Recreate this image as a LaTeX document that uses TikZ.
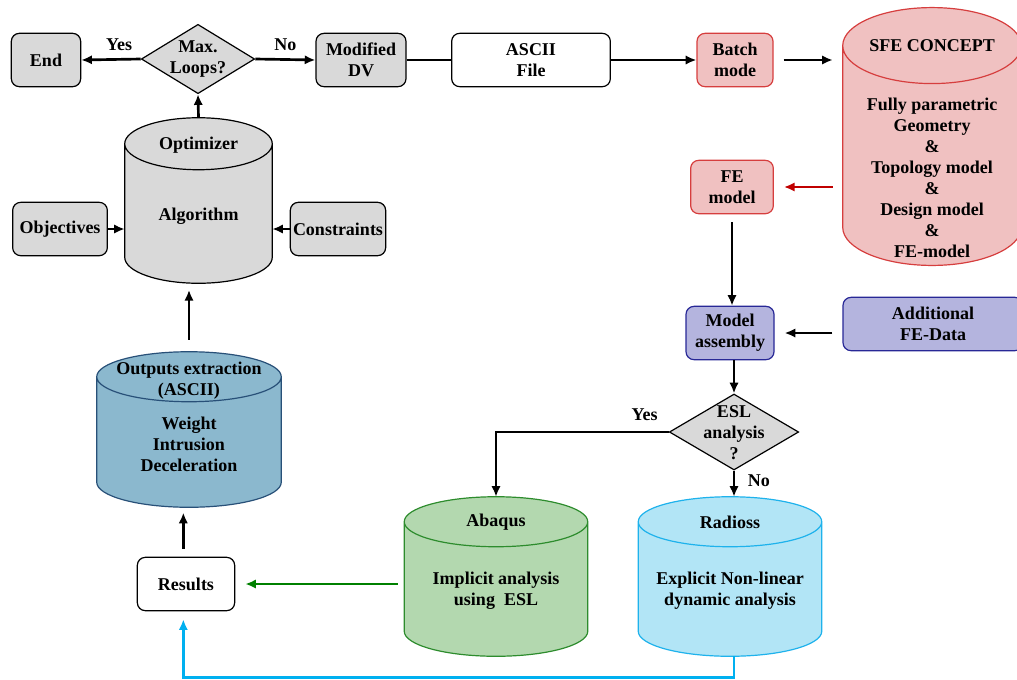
\documentclass[tikz,border=0pt]{standalone}
\usepackage{fontspec}
\setmainfont{Liberation Serif}
\usepackage{xcolor}
\usepackage{tikz}
\usetikzlibrary{positioning,shapes.geometric,calc,arrows.meta}

\definecolor{greyfill}{RGB}{217,217,217}
\definecolor{pinkfill}{RGB}{240,193,193}
\definecolor{pinkline}{RGB}{214,62,62}
\definecolor{lilacfill}{RGB}{180,180,222}
\definecolor{lilacline}{RGB}{40,40,150}
\definecolor{steelfill}{RGB}{139,184,206}
\definecolor{steelline}{RGB}{40,80,120}
\definecolor{mintfill}{RGB}{179,216,175}
\definecolor{mintline}{RGB}{45,140,45}
\definecolor{skyfill}{RGB}{178,229,246}
\definecolor{skyline}{RGB}{30,178,236}
\definecolor{redarrow}{RGB}{192,0,0}
\definecolor{greenarrow}{RGB}{0,128,0}
\definecolor{cyanarrow}{RGB}{0,176,240}

% cylinder drawn round a placeholder node
\newcommand{\drum}[3]{%
  \draw[#2] let \p1=(#1.north west), \p2=(#1.south east), \n1={(\x2-\x1)/2} in
    (\x1,\y1-#3) -- (\x1,\y2+#3)
    arc[start angle=180, end angle=360, x radius={\n1*1pt}, y radius=#3]
    -- (\x2,\y1-#3)
    arc[start angle=0, end angle=180, x radius={\n1*1pt}, y radius=#3] -- cycle
    (\x1,\y1-#3) arc[start angle=180, end angle=360, x radius={\n1*1pt}, y radius=#3];}

\begin{document}
\begin{tikzpicture}[x=0.75pt,y=-0.75pt,>={Latex[length=8pt,width=7pt]},
  font=\fontsize{13.5}{15.75}\selectfont\bfseries,
  box/.style={draw,rectangle,rounded corners=6pt,line width=0.9pt,align=center,minimum height=40pt,inner sep=2pt},
  gbox/.style={box,fill=greyfill},
  wbox/.style={box,fill=white},
  pbox/.style={box,fill=pinkfill,draw=pinkline},
  bbox/.style={box,fill=lilacfill,draw=lilacline},
  dec/.style={draw,diamond,fill=greyfill,line width=0.9pt,inner sep=0pt},
  holder/.style={rectangle,inner sep=0pt},
  txt/.style={align=center,inner sep=0pt},
  link/.style={line width=2pt}]
	\useasboundingbox (0,0) rectangle (1017,679);

	% top row
	\node[gbox,minimum width=52pt] (end) at (46,60) {End};
	\node[dec,minimum width=85pt,minimum height=52pt] (loops) at (198,59) {};
	\node[txt] (loopstxt) at (loops) {Max.\\Loops?};
	\node[gbox,minimum width=67.5pt] (mdv) at (361,60) {Modified\\DV};
	\node[wbox,minimum width=119pt] (ascii) at (531,60) {ASCII\\File};
	\node[pbox,minimum width=57pt] (batch) at (735,60) {Batch\\mode};

	% SFE CONCEPT
	\node[holder,minimum width=133.5pt,minimum height=193pt] (sfe) at (932,136.5) {};
	\drum{sfe}{fill=pinkfill,draw=pinkline,line width=0.9pt}{28.5pt}
	\node[txt] (sfetop) at (932,46) {SFE CONCEPT};
	\node[txt] (sfebody) at (932,178) {Fully parametric\\Geometry\\\&\\Topology model\\\&\\Design model\\\&\\FE-model};

	% Optimizer
	\node[holder,minimum width=110.25pt,minimum height=123.75pt] (opt) at (198.5,200.5) {};
	\drum{opt}{fill=greyfill,draw=black,line width=0.9pt}{19.5pt}
	\node[txt] (opttop) at (198.5,145) {Optimizer};
	\node[txt] (optbody) at (198.5,216) {Algorithm};
	\node[gbox,minimum width=71pt] (obj) at (60,229) {Objectives};
	\node[gbox,minimum width=71pt] (cons) at (338,229) {Constraints};

	% FE side
	\node[pbox,minimum width=62pt] (fe) at (732,187) {FE\\model};
	\node[bbox,minimum width=66pt] (ma) at (730,333) {Model\\assembly};
	\node[bbox,minimum width=135pt] (afd) at (933,324) {Additional\\FE-Data};
	\node[dec,minimum width=97pt,minimum height=57pt] (esl) at (734,432) {};
	\node[txt] (esltxt) at (734,433) {ESL\\analysis\\?};

	% Solvers
	\node[holder,minimum width=137.25pt,minimum height=119.25pt] (abq) at (496,576.5) {};
	\drum{abq}{fill=mintfill,draw=mintline,line width=0.9pt}{18.75pt}
	\node[txt] (abqtop) at (496,522) {Abaqus};
	\node[txt] (abqbody) at (496,591) {Implicit analysis\\using~~ESL};
	\node[holder,minimum width=137.25pt,minimum height=119.25pt] (rad) at (730,576.5) {};
	\drum{rad}{fill=skyfill,draw=skyline,line width=0.9pt}{18.75pt}
	\node[txt] (radtop) at (730,522) {Radioss};
	\node[txt] (radbody) at (730,591) {Explicit Non-linear\\dynamic analysis};

	% Results and outputs
	\node[wbox,minimum width=73pt] (res) at (186,584) {Results};
	\node[holder,minimum width=138pt,minimum height=116.25pt] (out) at (189,429.5) {};
	\drum{out}{fill=steelfill,draw=steelline,line width=0.9pt}{18.75pt}
	\node[txt] (outtop) at (189,381) {Outputs extraction\\(ASCII)};
	\node[txt] (outbody) at (189,444) {Weight\\Intrusion\\Deceleration};

	% Pfeile
	\draw[->,link] (loops.west) -- node[above=2pt,xshift=6pt]{Yes} (end.east);
	\draw[->,link] (loops.east) -- node[above=2pt]{No} (mdv.west);
	\draw[link] (mdv.east) -- (ascii.west);
	\draw[->,link] (ascii.east) -- (batch.west);
	\draw[->,link,shorten <=7.5pt,shorten >=7.5pt] (batch.east) -- (sfe.west |- batch.east);
	\draw[->,link,redarrow,shorten <=7.5pt,shorten >=7.5pt] (sfe.west |- fe.east) -- (fe.east);
	\draw[->,link,shorten <=6pt] (fe.south) -- (fe.south |- ma.north);
	\draw[->,link,shorten <=7.5pt,shorten >=7.5pt] (afd.west |- ma.east) -- (ma.east);
	\draw[->,link] (esl.north |- ma.south) -- (esl.north);
	\draw[->,link] (esl.west) -| node[pos=0.07,above=4pt]{Yes} (abq.north);
	\draw[->,link] (esl.south) -- node[right=6pt,pos=0.4]{No} (esl.south |- rad.north);
	\draw[->,link,greenarrow,shorten <=5pt,shorten >=7.5pt] (abq.west |- res.east) -- (res.east);
	\draw[->,link,cyanarrow,shorten >=6pt] (esl.south |- rad.south) -- ++(0,21) -| ([xshift=-2pt]res.south);
	\draw[->,link,shorten <=6pt,shorten >=4pt] ([xshift=-2pt]res.north) -- ([xshift=-2pt]res.north |- out.south);
	\draw[->,link,shorten <=9pt,shorten >=5pt] (out.north) -- (out.north |- opt.south);
	\draw[->,link] (obj.east) -- (obj.east -| opt.west);
	\draw[->,link] (cons.west) -- (cons.west -| opt.east);
	\draw[->,link] (opt.north) -- (loops.south);
\end{tikzpicture}
\end{document}
